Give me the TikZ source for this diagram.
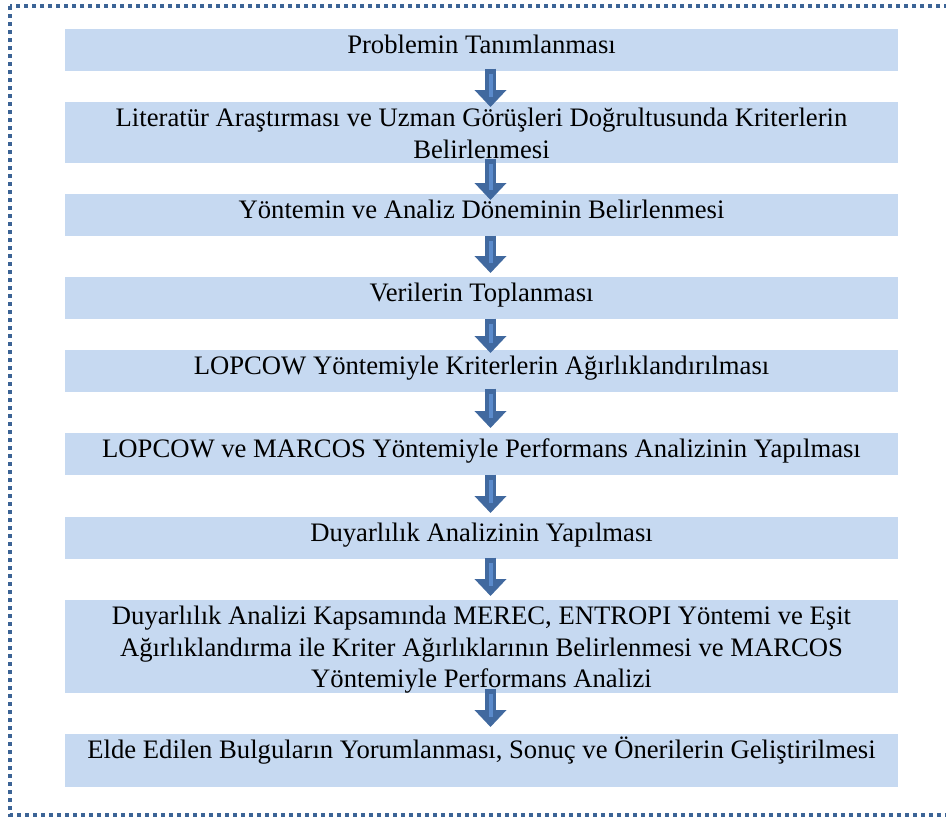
\documentclass[tikz,border=0pt]{standalone}
\usepackage{fontspec}
\setmainfont{Liberation Serif}
\usetikzlibrary{arrows.meta, calc}
\definecolor{Box_Blue}{HTML}{C6D9F1}
\definecolor{Arrow_Blue}{HTML}{41699F}
\definecolor{Stripe_Blue}{HTML}{5B8BCC}
\definecolor{Frame_Blue}{HTML}{3C6496}
\newcommand{\topstrut}{\rule{0pt}{18.4pt}}

\begin{document}
\begin{tikzpicture}[x=0.75pt, y=-0.75pt,
    stepbox/.style={fill=Box_Blue, inner sep=0pt, minimum width=624.75pt, anchor=north},
    steptext/.style={inner sep=0pt, anchor=north, align=center,
        font=\fontsize{20pt}{23.6pt}\selectfont},
    blockarrow/.style={Arrow_Blue, line width=8.25pt,
        -{Triangle[width=23.25pt, length=12.75pt]},
        postaction={draw=Stripe_Blue, line width=3pt, arrows=-,
            shorten <=3.75pt, shorten >=7.5pt}}]
    \useasboundingbox (0,0) rectangle (946,818);

    % Dotted frame (right side runs off the page)
    \draw[Frame_Blue, line width=3pt, dash pattern=on 3pt off 3pt] (10,6) rectangle (962,815);

    % Boxes
    \node[stepbox, minimum height=31.5pt] (b1) at (481.5,29) {};
    \node[stepbox, minimum height=45.75pt] (b2) at (481.5,102) {};
    \node[stepbox, minimum height=31.5pt] (b3) at (481.5,194) {};
    \node[stepbox, minimum height=31.5pt] (b4) at (481.5,277) {};
    \node[stepbox, minimum height=31.5pt] (b5) at (481.5,350) {};
    \node[stepbox, minimum height=31.5pt] (b6) at (481.5,433) {};
    \node[stepbox, minimum height=31.5pt] (b7) at (481.5,517) {};
    \node[stepbox, minimum height=69.75pt] (b8) at (481.5,600) {};
    \node[stepbox, minimum height=39.75pt] (b9) at (481.5,734) {};

    % Texts
    \node[steptext] (t1) at (b1.north) {\topstrut Problemin Tanımlanması};
    \node[steptext] (t2) at (b2.north) {\topstrut Literatür Araştırması ve Uzman Görüşleri Doğrultusunda Kriterlerin\\Belirlenmesi};
    \node[steptext] (t3) at (b3.north) {\topstrut Yöntemin ve Analiz Döneminin Belirlenmesi};
    \node[steptext] (t4) at (b4.north) {\topstrut Verilerin Toplanması};
    \node[steptext] (t5) at (b5.north) {\topstrut LOPCOW Yöntemiyle Kriterlerin Ağırlıklandırılması};
    \node[steptext] (t6) at (b6.north) {\topstrut LOPCOW ve MARCOS Yöntemiyle Performans Analizinin Yapılması};
    \node[steptext] (t7) at (b7.north) {\topstrut Duyarlılık Analizinin Yapılması};
    \node[steptext] (t8) at (b8.north) {\topstrut Duyarlılık Analizi Kapsamında MEREC, ENTROPI Yöntemi ve Eşit\\Ağırlıklandırma ile Kriter Ağırlıklarının Belirlenmesi ve MARCOS\\Yöntemiyle Performans Analizi};
    \node[steptext] (t9) at (b9.north) {\topstrut Elde Edilen Bulguların Yorumlanması, Sonuç ve Önerilerin Geliştirilmesi};

    % Arrows
    \draw[blockarrow] ($(b1.south)+(9,-3)$) -- ($(b2.north)+(9,5)$);
    \draw[blockarrow] ($(b2.south)+(9,-5)$) -- ($(b3.north)+(9,6)$);
    \draw[blockarrow] ($(b3.south)+(9,-1)$) -- ($(b4.north)+(9,-4)$);
    \draw[blockarrow] ($(b4.south)+(9,-1)$) -- ($(b5.north)+(9,3)$);
    \draw[blockarrow] ($(b5.south)+(9,-4)$) -- ($(b6.north)+(9,-5)$);
    \draw[blockarrow] ($(b6.south)+(9,-1)$) -- ($(b7.north)+(9,-4)$);
    \draw[blockarrow] ($(b7.south)+(9,-2)$) -- ($(b8.north)+(9,-4)$);
    \draw[blockarrow] ($(b8.south)+(9,-5)$) -- ($(b9.north)+(9,-7)$);
\end{tikzpicture}
\end{document}
